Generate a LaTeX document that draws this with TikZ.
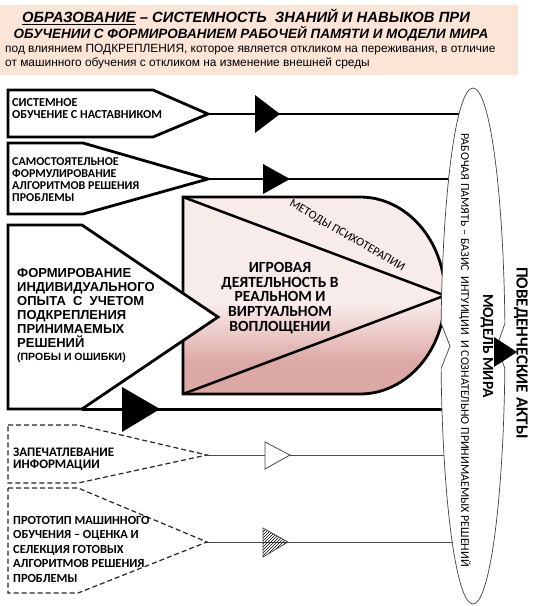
\documentclass[tikz,border=0pt]{standalone}
\usepackage{fontspec}
\setmainfont{Carlito}
\newfontfamily\arial{Liberation Sans}
\usetikzlibrary{patterns}
\definecolor{peach}{HTML}{FBE5D6}
\definecolor{plight}{HTML}{F8ECEB}
\definecolor{pmid}{HTML}{EBC8C6}
\definecolor{pdark}{HTML}{DBA8A5}
\pgfdeclareverticalshading{pinkgrad}{100bp}{color(0bp)=(pdark); color(33bp)=(pdark); color(40bp)=(pmid); color(48bp)=(plight); color(100bp)=(plight)}
\begin{document}
\begin{tikzpicture}[x=1pt,y=-1pt,
  solidbox/.style={draw=black, line width=2.8pt, fill=white, line join=miter},
  dashbox/.style={draw=black!85, line width=1.2pt, dash pattern=on 5pt off 3pt, fill=white},
  boxtext/.style={align=left, anchor=west, inner sep=0pt, font=\bfseries\fontsize{12.2}{11.5}\selectfont},
  conn/.style={line width=1.4pt},
  thickconn/.style={line width=3pt},
  thinconn/.style={draw=black!70, line width=0.8pt},
  bigtri/.style={fill=black},
  vtext/.style={rotate=-90, inner sep=0pt},
]
\useasboundingbox (0,0) rectangle (540,606);
% header
\fill[peach] (0,5) rectangle (518,75);
\node[inner sep=0pt, font=\arial\bfseries\itshape\fontsize{14.8}{15}\selectfont] (h1) at (246,17) {\underline{ОБРАЗОВАНИЕ} – СИСТЕМНОСТЬ\ \ ЗНАНИЙ И НАВЫКОВ ПРИ};
\node[inner sep=0pt, font=\arial\bfseries\itshape\fontsize{13.5}{15}\selectfont] (h2) at (251,34) {ОБУЧЕНИИ С ФОРМИРОВАНИЕМ РАБОЧЕЙ ПАМЯТИ И МОДЕЛИ МИРА};
\node[inner sep=0pt, anchor=west, align=left, font=\arial\fontsize{11.9}{14}\selectfont] (h3) at (5,57) {под влиянием ПОДКРЕПЛЕНИЯ, которое является откликом на переживания, в отличие\\от машинного обучения с откликом на изменение внешней среды};

% coordinates
\coordinate (t1) at (208,114);
\coordinate (t2) at (208,179);
\coordinate (t3) at (82,409);
\coordinate (t5) at (207,455);
\coordinate (t6) at (207,542);
\coordinate (e1) at (473,114);
\coordinate (e2) at (473,179);
\coordinate (e3) at (473,409);
\coordinate (e5) at (473,455);
\coordinate (e6) at (473,542);
\coordinate (tipG) at (445,295.5);

% connectors
\draw[conn] (t1) -- (e1);
\draw[conn] (t2) -- (e2);
\draw[thickconn] (t3) -- (e3);
\draw[thinconn] (t5) -- (e5);
\draw[thinconn] (t6) -- (e6);

% box 1
\draw[solidbox] (8,90) -- (153,90) -- (t1) -- (153,137) -- (8,137) -- cycle;
\node[boxtext] (b1) at (12,108.5) {СИСТЕМНОЕ\\ОБУЧЕНИЕ С НАСТАВНИКОМ};
\fill[bigtri] (255,95) -- (280,114) -- (255,133) -- cycle;

% box 2
\draw[solidbox] (8,143) -- (83,143) -- (t2) -- (83,214) -- (8,214) -- cycle;
\node[boxtext, font=\bfseries\fontsize{12}{12}\selectfont] (b2) at (12,180) {САМОСТОЯТЕЛЬНОЕ\\ФОРМУЛИРОВАНИЕ\\АЛГОРИТМОВ РЕШЕНИЯ\\ПРОБЛЕМЫ};
\fill[bigtri] (263,164) -- (290,179) -- (263,194) -- cycle;

% game shape
\shade[shading=pinkgrad] (183,197) -- (360,197) arc[start angle=-90, end angle=90, x radius=85, y radius=98.5] -- (183,394) -- cycle;
\draw[line width=2.8pt, line join=miter] (183,197) -- (360,197) arc[start angle=-90, end angle=90, x radius=85, y radius=98.5] -- (183,394) -- cycle;
\draw[line width=2.5pt] (183,197) -- (tipG) -- (183,394);
\node[inner sep=0pt, align=center, font=\bfseries\fontsize{15.5}{14.7}\selectfont] (g) at (280,298) {ИГРОВАЯ\\ДЕЯТЕЛЬНОСТЬ В\\РЕАЛЬНОМ И\\ВИРТУАЛЬНОМ\\ВОПЛОЩЕНИИ};
\node[inner sep=0pt, rotate=-30, font=\fontsize{12}{12}\selectfont] (m) at (347,236) {МЕТОДЫ ПСИХОТЕРАПИИ};

% box 3
\draw[solidbox] (8,225) -- (82,225) -- (218,317) -- (t3) -- (8,409) -- cycle;
\node[boxtext, font=\arial\bfseries\fontsize{13}{14}\selectfont] (b3) at (17,308) {ФОРМИРОВАНИЕ\\ИНДИВИДУАЛЬНОГО\\ОПЫТА\ \ С\ \ УЧЕТОМ\\ПОДКРЕПЛЕНИЯ\\ПРИНИМАЕМЫХ\\РЕШЕНИЙ};
\node[boxtext, font=\arial\bfseries\fontsize{10.5}{12}\selectfont] (b3s) at (17,358) {(ПРОБЫ И ОШИБКИ)};
\fill[bigtri] (122,387) -- (160,409) -- (122,432) -- cycle;

% box 5
\draw[dashbox] (8,425) -- (78,425) -- (t5) -- (78,483) -- (8,483) -- cycle;
\node[boxtext, font=\bfseries\fontsize{13}{12}\selectfont] (b5) at (13,459) {ЗАПЕЧАТЛЕВАНИЕ\\ИНФОРМАЦИИ};
\draw[thinconn, fill=white] (265,442) -- (290,455) -- (265,469) -- cycle;

% box 6
\draw[dashbox] (8,488) -- (78,488) -- (t6) -- (78,593) -- (8,593) -- cycle;
\node[boxtext, font=\bfseries\fontsize{12.4}{14.5}\selectfont] (b6) at (13,549) {ПРОТОТИП МАШИННОГО\\ОБУЧЕНИЯ – ОЦЕНКА И\\СЕЛЕКЦИЯ ГОТОВЫХ\\АЛГОРИТМОВ РЕШЕНИЯ\\ПРОБЛЕМЫ};
\draw[thinconn, pattern=north east lines] (263,528) -- (288,542) -- (263,557) -- cycle;

% ellipse (working memory / world model)
\draw[draw=black!75, line width=0.7pt, fill=white] (473,88)
  arc[start angle=-90, end angle=-175, x radius=32, y radius=258] -- (450,346) -- (441.1,368.5)
  arc[start angle=-185, end angle=-355, x radius=32, y radius=258] -- (497,346) -- (504.9,323.5)
  arc[start angle=-5, end angle=-90, x radius=32, y radius=258] -- cycle;
\node[vtext, font=\fontsize{12}{12}\selectfont] (wm) at (465,350) {РАБОЧАЯ ПАМЯТЬ – БАЗИС\ \ ИНТУИЦИИ\ \ И СОЗНАТЕЛЬНО ПРИНИМАЕМЫХ РЕШЕНИЙ};
\node[vtext, font=\bfseries\fontsize{15.5}{16}\selectfont] (mm) at (487,346) {МОДЕЛЬ МИРА};
\fill[bigtri] (494,337) -- (517,352) -- (494,367) -- cycle;
\node[vtext, font=\bfseries\fontsize{17}{16}\selectfont] (pa) at (521,353) {ПОВЕДЕНЧЕСКИЕ АКТЫ};
\end{tikzpicture}
\end{document}
